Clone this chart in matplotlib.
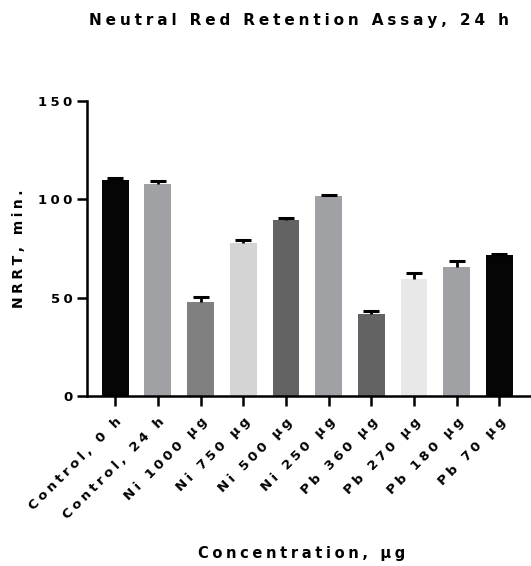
import matplotlib
matplotlib.use('Agg')
import matplotlib.pyplot as plt

categories = ['Control, 0 h', 'Control, 24 h', 'Ni 1000 \u03bcg', 'Ni 750 \u03bcg', 'Ni 500 \u03bcg',
              'Ni 250 \u03bcg', 'Pb 360 \u03bcg', 'Pb 270 \u03bcg', 'Pb 180 \u03bcg', 'Pb 70 \u03bcg']
nrrt = [110, 108, 48, 78, 89.5, 101.5, 41.5, 59.5, 65.5, 71.5]
sem = [0.8, 1.5, 2.5, 1.5, 1.0, 0.8, 1.8, 3.0, 3.3, 0.8]
bar_colors = ['#050505', '#a0a1a4', '#808080', '#d4d4d4', '#636363',
              '#a0a1a4', '#636363', '#e8e8e8', '#a0a1a4', '#050505']
y_ticks = [0, 50, 100, 150]


def spaced(s):
    # the original uses wide letter tracking; a four-per-em space between letters mimics it
    return '\u2005'.join(s)


plt.rcParams['font.family'] = ['DejaVu Sans']
plt.rcParams['font.weight'] = 'bold'

fig = plt.figure(figsize=(5.31, 5.66), dpi=100)
ax = fig.add_axes([0.164, 0.3004, 0.836, 0.5212])

x = list(range(len(categories)))
ax.bar(x, nrrt, width=0.63, color=bar_colors, zorder=2)
_, caps, _ = ax.errorbar(x, nrrt, yerr=[[0] * len(sem), sem], fmt='none', ecolor='black',
                         elinewidth=2, capsize=5.5, capthick=2.2, zorder=3)
caps[0].set_visible(False)  # only the upper cap, bars are one-sided

ax.set_xlim(-0.66, 9.74)
ax.set_ylim(0, 150)
ax.set_yticks(y_ticks)
ax.set_xticks(x)
ax.set_xticklabels([spaced(c) for c in categories], rotation=45, ha='right',
                   rotation_mode='anchor', fontsize=9.5, fontweight='bold')
ax.set_yticklabels([spaced(str(t)) for t in y_ticks], fontsize=9.5, fontweight='bold')

for side in ['top', 'right']:
    ax.spines[side].set_visible(False)
for side in ['left', 'bottom']:
    ax.spines[side].set_linewidth(1.8)
ax.tick_params(axis='both', width=1.8, length=7, color='black')
ax.tick_params(axis='x', pad=7)

ax.set_ylabel(spaced('NRRT, min.'), fontsize=10, fontweight='bold')
ax.set_xlabel(spaced('Concentration, \u03bcg'), fontsize=10.5, fontweight='bold')
ax.xaxis.set_label_coords(0.484, -0.51)
ax.yaxis.set_label_coords(-0.137, 0.5)
fig.text(0.563, 0.963, spaced('Neutral Red Retention Assay, 24 h'), ha='center', va='center',
         fontsize=11, fontweight='bold')

fig.savefig('out.png', dpi=100)
